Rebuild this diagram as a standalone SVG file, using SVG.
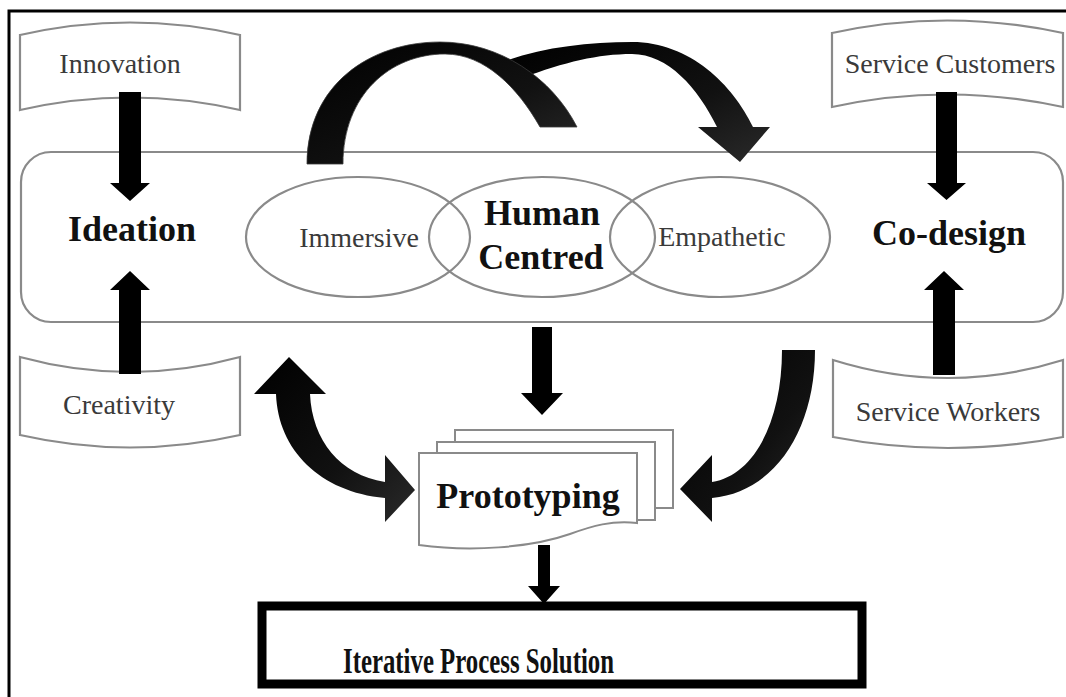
<svg xmlns="http://www.w3.org/2000/svg" width="1066" height="697" viewBox="0 0 1066 697">
  <style>
    .thin { fill: none; stroke: #8a8a8a; stroke-width: 2.2; }
    .page { fill: #ffffff; stroke: #8a8a8a; stroke-width: 2; }
    .banner { fill: #ffffff; stroke: #8a8a8a; stroke-width: 2.2; }
    .lbl { font-family: "Liberation Serif", "Times New Roman", serif; font-size: 28px; fill: #3a3a3a; text-anchor: middle; }
    .big { font-family: "Liberation Serif", "Times New Roman", serif; font-size: 36px; font-weight: bold; fill: #111; text-anchor: middle; }
    .solid { fill: #000; }
    .curved { fill: url(#shade); }
    .seam { stroke: #3a3a3a; stroke-width: 0.8; }
  </style>
  <defs>
    <linearGradient id="shade" x1="0" y1="0" x2="1" y2="1">
      <stop offset="0" stop-color="#000"/>
      <stop offset="0.6" stop-color="#111"/>
      <stop offset="1" stop-color="#2a2a2a"/>
    </linearGradient>
  </defs>

  <rect width="1066" height="697" fill="#fff"/>

  <!-- page frame -->
  <path d="M9,697 L9,11 L1066,11" fill="none" stroke="#000" stroke-width="3"/>

  <!-- central band -->
  <g id="band">
    <rect class="thin" x="21" y="152" width="1042" height="170" rx="30" ry="30"/>
  </g>

  <g id="innovation">
    <path class="banner" d="M20,35 Q130,10 240,35 L240,110 Q130,85 20,110 Z"/>
    <text class="lbl" x="120" y="73">Innovation</text>
  </g>
  <g id="creativity">
    <path class="banner" d="M20,357 Q130,387 240,357 L240,435 Q130,460 20,435 Z"/>
    <text class="lbl" x="119" y="414">Creativity</text>
  </g>
  <g id="service-customers">
    <path class="banner" d="M832,33 Q947,8 1063,33 L1063,107 Q947,82 832,107 Z"/>
    <text class="lbl" x="950" y="73">Service Customers</text>
  </g>
  <g id="service-workers">
    <path class="banner" d="M833,360 Q948,396 1063,360 L1063,437 Q948,459 833,437 Z"/>
    <text class="lbl" x="948" y="421">Service Workers</text>
  </g>

  <g id="ideation">
    <text class="big" x="132" y="241">Ideation</text>
  </g>
  <g id="co-design">
    <text class="big" x="949" y="245">Co-design</text>
  </g>

  <g id="immersive">
    <ellipse class="thin" cx="358" cy="237" rx="112" ry="60"/>
    <text class="lbl" x="359" y="247">Immersive</text>
  </g>
  <g id="human-centred">
    <ellipse class="thin" cx="542" cy="237" rx="113" ry="60"/>
    <text class="big" x="542" y="225">Human</text>
    <text class="big" x="541" y="269">Centred</text>
  </g>
  <g id="empathetic">
    <ellipse class="thin" cx="720" cy="237" rx="110" ry="60"/>
    <text class="lbl" x="722" y="246">Empathetic</text>
  </g>

  <g id="prototyping">
    <rect class="page" x="455" y="430" width="218" height="78"/>
    <rect class="page" x="437" y="442" width="218" height="78"/>
    <path class="page" d="M419,453 L637,453 L637,523 C612,520 592,526 570,534 C530,548 470,552 419,545 Z"/>
    <text class="big" x="528" y="508">Prototyping</text>
  </g>

  <g id="iterative-solution">
    <rect x="262" y="606" width="600" height="78" fill="#fff" stroke="#000" stroke-width="9"/>
    <text x="343" y="673" font-family="Liberation Serif, Times New Roman, serif" font-size="36" font-weight="bold" fill="#111" textLength="271" lengthAdjust="spacingAndGlyphs">Iterative Process Solution</text>
  </g>

  <g id="connectors">
    <!-- straight block arrows -->
    <polygon class="solid" points="119,92 141,92 141,183 150,183 130,201 110,183 119,183"/>
    <polygon class="solid" points="119,374 141,374 141,290 150,290 130,271 110,290 119,290"/>
    <polygon class="solid" points="936,92 957,92 957,183 966,183 946.5,200 927,183 936,183"/>
    <polygon class="solid" points="933,375 955,375 955,290 964,290 944,271 924,290 933,290"/>
    <polygon class="solid" points="532,327 552,327 552,393 563,393 542,415 521,393 532,393"/>
    <polygon class="solid" points="538,545 550,545 550,586 560,586 544,604 528,586 538,586"/>

    <!-- looping arrows over the band: the second loop starts behind the first -->
    <path class="curved" d="M508,60 C545,47 590,42 632,42 C690,42 733,85 753,127 L770,127 L740,162 L698,127 L717,127 C698,88 668,54 632,54 C598,54 565,62 522,78 Z"/>
    <path class="curved seam" d="M307,164 C307,85 370,42 440,42 C500,42 552,78 577,127 L540,127 C518,88 485,54 445,54 C390,54 343,95 343,164 Z"/>

    <!-- curved arrows into prototyping -->
    <path class="curved" d="M289,357 L326,394 L310,394 C312,440 340,475 385,482 L385,455 L415,490 L385,522 L385,498 C320,492 278,450 276,394 L254,394 Z"/>
    <path class="curved" d="M782,350 L815,350 C815,430 775,492 712,498 L712,522 L680,489 L712,455 L712,482 C755,475 782,420 782,350 Z"/>
  </g>
</svg>
